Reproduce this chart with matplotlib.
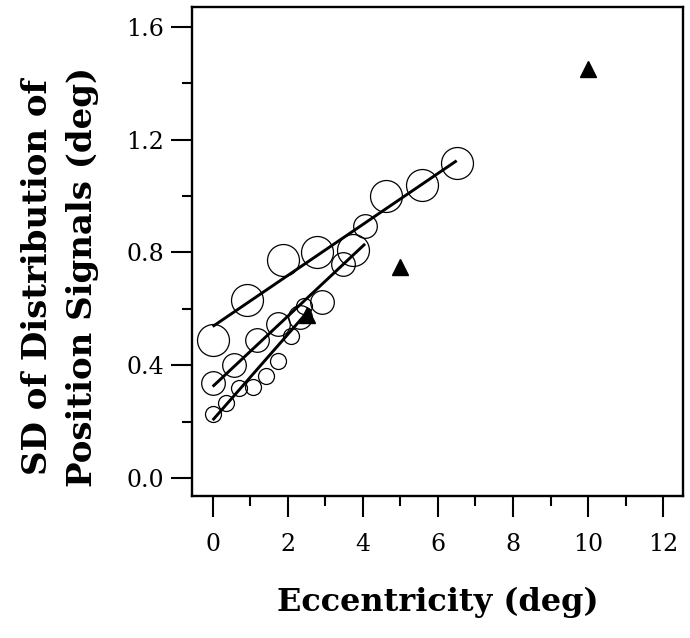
"""SD of position signals vs eccentricity: three circle series with fits, plus triangles."""

import matplotlib
matplotlib.use("Agg")
import matplotlib.pyplot as plt
from matplotlib.ticker import MultipleLocator

# ---------- data -----------------------------------------------------------
large_x = [0.0, 0.92, 1.87, 2.79, 3.73, 4.63, 5.57, 6.5]
large_y = [0.49, 0.63, 0.773, 0.80, 0.81, 1.00, 1.039, 1.116]

medium_x = [0.0, 0.58, 1.17, 1.75, 2.33, 2.9, 3.48, 4.06]
medium_y = [0.338, 0.40, 0.489, 0.546, 0.57, 0.625, 0.76, 0.895]

small_x = [0.0, 0.35, 0.70, 1.07, 1.42, 1.75, 2.09, 2.43]
small_y = [0.225, 0.265, 0.32, 0.324, 0.362, 0.414, 0.505, 0.611]

# fitted lines (end points)
fit_large_x, fit_large_y = [0.0, 6.5], [0.537, 1.125]
fit_medium_x, fit_medium_y = [0.0, 4.06], [0.324, 0.83]
fit_small_x, fit_small_y = [0.0, 2.6], [0.205, 0.60]

tri_x = [2.5, 5.0, 10.0]
tri_y = [0.577, 0.748, 1.45]

x_ticks = [0, 2, 4, 6, 8, 10, 12]
y_ticks = [0.0, 0.4, 0.8, 1.2, 1.6]

# ---------- plot -----------------------------------------------------------
plt.rcParams["font.family"] = ["DejaVu Serif"]

fig = plt.figure(figsize=(6.9, 6.38), dpi=100)
ax = fig.add_axes([0.2783, 0.2226, 0.7116, 0.7664])

circ = dict(ls="none", marker="o", mfc="none", mec="black", mew=0.9, zorder=2)
ax.plot(large_x, large_y, ms=23, **circ)
ax.plot(medium_x, medium_y, ms=17, **circ)
ax.plot(small_x, small_y, ms=11.5, **circ)

for fx, fy in [(fit_large_x, fit_large_y), (fit_medium_x, fit_medium_y),
               (fit_small_x, fit_small_y)]:
    ax.plot(fx, fy, color="black", lw=2.1, solid_capstyle="butt", zorder=3)

ax.plot(tri_x, tri_y, ls="none", marker="^", ms=12, color="black", zorder=4)

ax.set_xlim(-0.55, 12.53)
ax.set_ylim(-0.064, 1.67)
ax.set_xticks(x_ticks)
ax.set_yticks(y_ticks)
ax.set_yticklabels([f"{v:.1f}" for v in y_ticks])
ax.xaxis.set_minor_locator(MultipleLocator(1))
ax.yaxis.set_minor_locator(MultipleLocator(0.2))

for s in ax.spines.values():
    s.set_linewidth(1.7)
ax.tick_params(which="major", direction="out", length=15, width=1.5,
               labelsize=17, pad=5)
ax.tick_params(which="minor", direction="out", length=7.5, width=1.5)
ax.tick_params(axis="x", which="major", pad=12)

ax.set_xlabel("Eccentricity (deg)", fontsize=23, fontweight="bold", labelpad=22)
ax.set_ylabel("SD of Distribution of\nPosition Signals (deg)", fontsize=24.5,
              fontweight="bold", linespacing=1.45)
ax.yaxis.set_label_coords(-0.19, 0.448)

fig.savefig("out.png", dpi=100)
